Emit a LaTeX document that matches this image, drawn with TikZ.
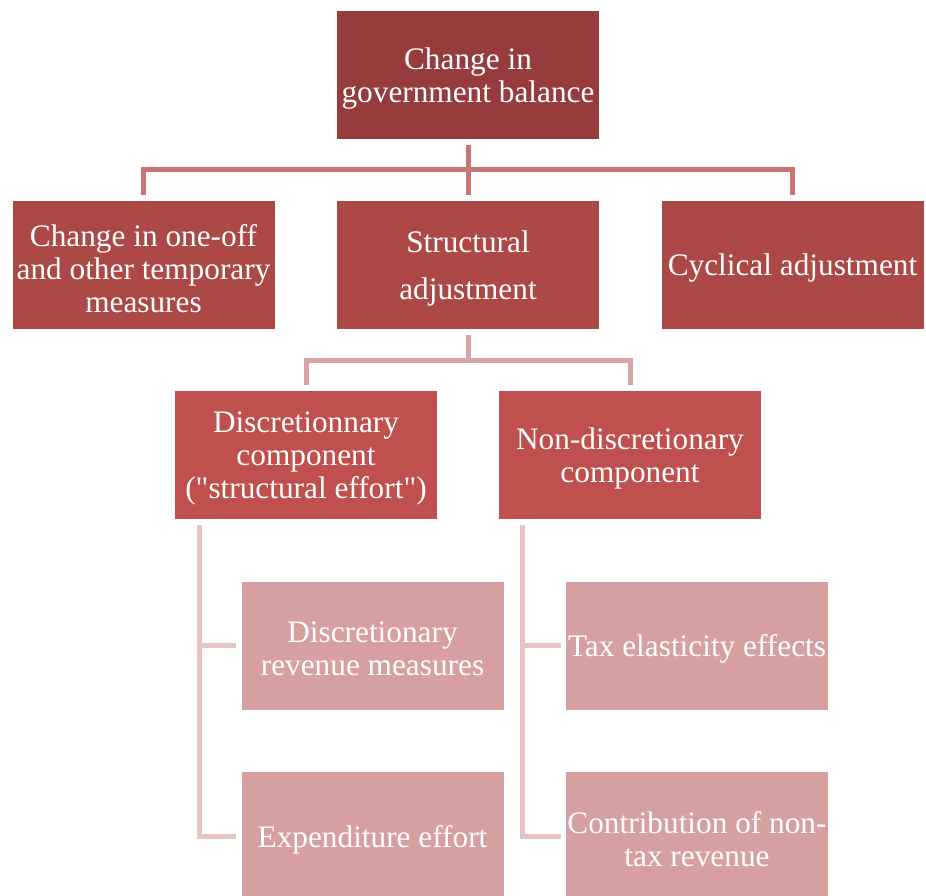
\documentclass[tikz,border=0pt]{standalone}
\usepackage{fontspec}
\setmainfont{Liberation Serif}[Ligatures=TeXOff]
\definecolor{cTop}{HTML}{963C3C}
\definecolor{cOne}{HTML}{AC4846}
\definecolor{cTwo}{HTML}{C0504D}
\definecolor{cThree}{HTML}{D7A0A0}
\definecolor{lOne}{HTML}{C87474}
\definecolor{lTwo}{HTML}{D9A3A3}
\definecolor{lThree}{HTML}{E5C4C4}
\tikzset{
  box/.style={rectangle, minimum width=262pt, minimum height=128pt, inner sep=0pt},
  lbl/.style={inner sep=0pt, text=white, align=center, font=\fontsize{31.3pt}{33pt}\selectfont},
  conOne/.style={draw=lOne, line width=5pt, line join=miter},
  conTwo/.style={draw=lTwo, line width=5pt, line join=miter},
  conThree/.style={draw=lThree, line width=5pt, line join=miter},
}
\begin{document}
\begin{tikzpicture}[x=1pt,y=-1pt]
\useasboundingbox (0,0) rectangle (926,895);
\begin{scope}
\clip (0,0) rectangle (926,895);
\node[box, fill=cTop] (top) at (468,74.5) {};
\node[box, fill=cOne] (oneoff) at (143.5,265) {};
\node[box, fill=cOne] (struct) at (468,265) {};
\node[box, fill=cOne] (cyc) at (792.5,265) {};
\node[box, fill=cTwo] (disc) at (306,455) {};
\node[box, fill=cTwo] (nondisc) at (630,455) {};
\node[box, fill=cThree] (drm) at (372.5,645.5) {};
\node[box, fill=cThree] (exp) at (372.5,836) {};
\node[box, fill=cThree] (tax) at (697,645.5) {};
\node[box, fill=cThree] (contrib) at (697,836) {};

\node[lbl] (ttop) at ([yshift=-4]top.center) {Change in\\government balance};
\node[lbl] (toneoff) at ([yshift=-3.5]oneoff.center) {Change in one-off\\and other temporary\\measures};
\node[lbl] (tstruct) at ([yshift=-3.5]struct.center) {Structural\\[14pt]adjustment};
\node[lbl] (tcyc) at ([yshift=-3.5]cyc.center) {Cyclical adjustment};
\node[lbl] (tdisc) at ([yshift=-3.5]disc.center) {Discretionnary\\component\\("structural effort")};
\node[lbl] (tnondisc) at ([yshift=-3.5]nondisc.center) {Non-discretionary\\component};
\node[lbl] (tdrm) at ([yshift=-3.5]drm.center) {Discretionary\\revenue measures};
\node[lbl] (texp) at ([yshift=-3.5]exp.center) {Expenditure effort};
\node[lbl] (ttax) at ([yshift=-3.5]tax.center) {Tax elasticity effects};
\node[lbl] (tcontrib) at ([yshift=-3.5]contrib.center) {Contribution of non-\\tax revenue};

% level 1 connectors
\path (top.south) -- (struct.north) coordinate[midway] (b1);
\draw[conOne] ([yshift=-6]top.south) -- ([yshift=6]struct.north);
\draw[conOne] ([yshift=6]oneoff.north) |- (b1) -| ([yshift=6]cyc.north);
% level 2 connectors
\path (struct.south) -- (struct.south |- disc.north) coordinate[midway] (b2);
\draw[conTwo] ([yshift=-6]struct.south) -- (b2);
\draw[conTwo] ([yshift=6]disc.north) |- (b2) -| ([yshift=6]nondisc.north);
% level 3 connectors
\coordinate (dl) at ([xshift=25,yshift=-6]disc.south west);
\coordinate (nl) at ([xshift=24,yshift=-6]nondisc.south west);
\draw[conThree] (dl) |- ([xshift=-5]exp.west);
\draw[conThree] (dl |- drm.west) -- ([xshift=-5]drm.west);
\draw[conThree] (nl) |- ([xshift=-5]contrib.west);
\draw[conThree] (nl |- tax.west) -- ([xshift=-5]tax.west);
\end{scope}
\end{tikzpicture}
\end{document}
